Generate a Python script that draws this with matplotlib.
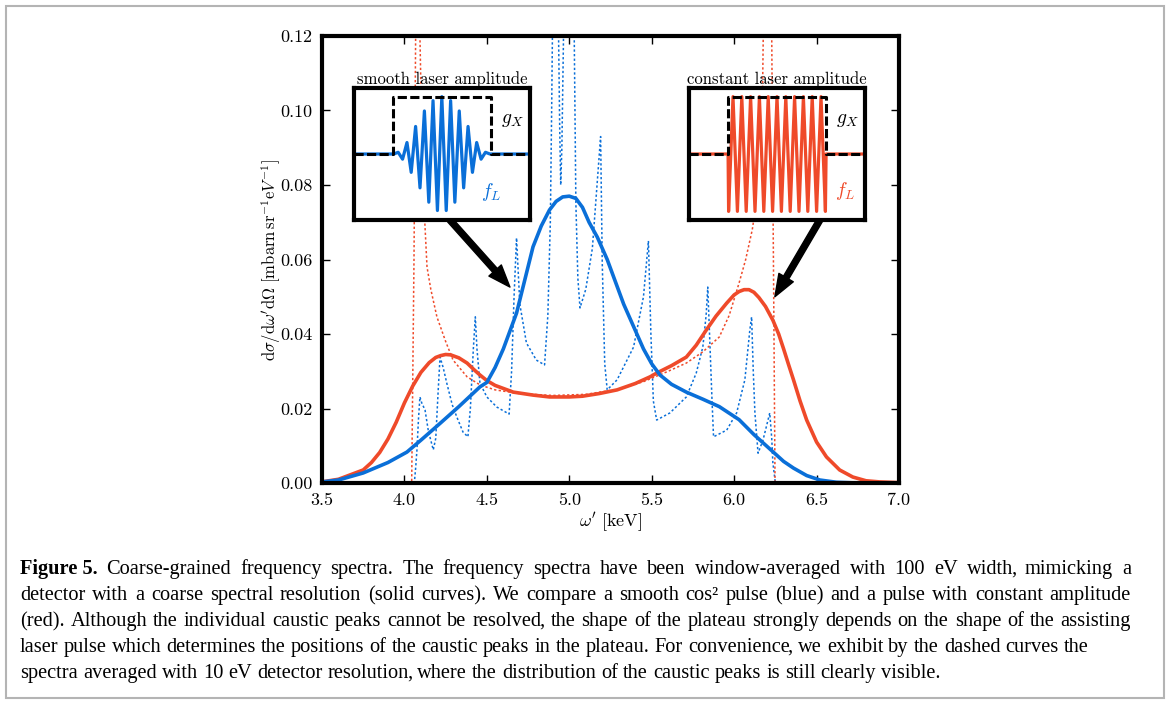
import numpy as np
import matplotlib.pyplot as plt
from matplotlib.patches import Rectangle

plt.rcParams['mathtext.fontset'] = 'cm'
plt.rcParams['font.family'] = ['cmr10', 'DejaVu Serif']
plt.rcParams['axes.formatter.use_mathtext'] = True

BLUE = '#0a6fd8'
RED = '#ef4a2a'

# --- spectra averaged over 100 eV windows (solid curves) ---
omega_smooth = [3.50, 3.60, 3.75, 3.90, 4.015, 4.10, 4.216, 4.33, 4.458, 4.50, 4.55,
                4.60, 4.65, 4.68, 4.73, 4.78, 4.83, 4.88, 4.92, 4.96, 5.00, 5.04, 5.08,
                5.12, 5.17, 5.23, 5.28, 5.33, 5.39, 5.45, 5.50, 5.55, 5.62, 5.71, 5.81,
                5.91, 6.03, 6.12, 6.22, 6.30, 6.36, 6.44, 6.52, 6.62, 6.75, 7.00]
sigma_smooth = [0.0003, 0.0008, 0.0027, 0.0055, 0.0083, 0.0115, 0.0160, 0.0205, 0.0258,
                0.0270, 0.0310, 0.0360, 0.0420, 0.0456, 0.0545, 0.0634, 0.0690, 0.0733,
                0.0756, 0.0768, 0.0770, 0.0764, 0.0740, 0.0700, 0.0660, 0.0600, 0.0540,
                0.0480, 0.0420, 0.0360, 0.0320, 0.0290, 0.0265, 0.0244, 0.0225, 0.0205,
                0.0170, 0.0130, 0.0090, 0.0058, 0.0040, 0.0020, 0.0008, 0.0002, 0.0, 0.0]

omega_const = [3.50, 3.60, 3.75, 3.80, 3.85, 3.90, 3.95, 4.00, 4.05, 4.10, 4.15, 4.19,
               4.22, 4.25, 4.28, 4.33, 4.38, 4.42, 4.458, 4.50, 4.55, 4.66, 4.78, 4.88,
               5.00, 5.08, 5.18, 5.29, 5.40, 5.49, 5.53, 5.62, 5.71, 5.77, 5.83, 5.89,
               5.955, 6.00, 6.03, 6.06, 6.09, 6.12, 6.15, 6.19, 6.235, 6.27, 6.30, 6.33,
               6.36, 6.40, 6.44, 6.50, 6.56, 6.64, 6.72, 6.80, 6.88, 7.00]
sigma_const = [0.0003, 0.0010, 0.0035, 0.0055, 0.0082, 0.0118, 0.0163, 0.0215, 0.0260,
               0.0297, 0.0323, 0.0337, 0.0342, 0.0345, 0.0344, 0.0336, 0.0322, 0.0305,
               0.0290, 0.0275, 0.0262, 0.0244, 0.0236, 0.0231, 0.0231, 0.0233, 0.0240,
               0.0250, 0.0267, 0.0285, 0.0295, 0.0315, 0.0338, 0.0370, 0.0410, 0.0448,
               0.0483, 0.0505, 0.0514, 0.0519, 0.0519, 0.0512, 0.0498, 0.0474, 0.0437,
               0.0400, 0.0360, 0.0318, 0.0277, 0.0220, 0.0169, 0.0110, 0.0070, 0.0035,
               0.0016, 0.0006, 0.0003, 0.0001]

# --- spectra averaged over 10 eV (dotted curves) ---
omega_smooth_fine = [3.50, 4.060, 4.068, 4.076, 4.085, 4.094, 4.105, 4.125, 4.145, 4.175,
                     4.19, 4.205, 4.216, 4.235, 4.257, 4.29, 4.318, 4.355, 4.385, 4.40,
                     4.418, 4.43, 4.44, 4.458, 4.50, 4.56, 4.635, 4.65, 4.665, 4.68, 4.70,
                     4.74, 4.80, 4.85, 4.87, 4.885, 4.893, 4.90, 4.91, 4.925, 4.935, 4.942,
                     4.948, 4.955, 4.965, 4.975, 5.02, 5.03, 5.04, 5.052, 5.065, 5.10, 5.14,
                     5.17, 5.19, 5.20, 5.215, 5.23, 5.29, 5.39, 5.45, 5.48, 5.495, 5.51,
                     5.53, 5.61, 5.71, 5.77, 5.81, 5.83, 5.84, 5.855, 5.865, 5.875, 5.955,
                     6.015, 6.065, 6.095, 6.106, 6.116, 6.126, 6.145, 6.175, 6.216, 6.228,
                     6.235, 6.25, 7.00]
sigma_smooth_fine = [0.0, 0.0, 0.0040, 0.0089, 0.0170, 0.0231, 0.0215, 0.0196, 0.0140,
                     0.0089, 0.0120, 0.0250, 0.0338, 0.0310, 0.0268, 0.0210, 0.0177, 0.0137,
                     0.0124, 0.0200, 0.0360, 0.0446, 0.0360, 0.0268, 0.0231, 0.0204, 0.0185,
                     0.0300, 0.0500, 0.0658, 0.0480, 0.0376, 0.0330, 0.0317, 0.0450, 0.0700,
                     0.1000, 0.1300, 0.2000, 0.2000, 0.1200, 0.0950, 0.0800, 0.0900, 0.1200,
                     0.2000, 0.2000, 0.1200, 0.0750, 0.0550, 0.0470, 0.0520, 0.0630, 0.0810,
                     0.0930, 0.0590, 0.0320, 0.0250, 0.0277, 0.0365, 0.0500, 0.0650, 0.0400,
                     0.0220, 0.0169, 0.0188, 0.0231, 0.0295, 0.0365, 0.0450, 0.0526, 0.0350,
                     0.0231, 0.0124, 0.0142, 0.0188, 0.0277, 0.0410, 0.0446, 0.0300, 0.0188,
                     0.0080, 0.0115, 0.0188, 0.0120, 0.0054, 0.0, 0.0]

omega_const_fine = [3.50, 4.044, 4.058, 4.068, 4.075, 4.088, 4.094, 4.105, 4.118, 4.137,
                    4.16, 4.197, 4.25, 4.295, 4.38, 4.46, 4.55, 4.70, 4.90, 5.10, 5.30,
                    5.45, 5.60, 5.71, 5.81, 5.91, 5.97, 6.03, 6.07, 6.11, 6.14, 6.16, 6.172,
                    6.178, 6.19, 6.222, 6.228, 6.24, 6.248, 7.00]
sigma_const_fine = [0.0, 0.0, 0.060, 0.120, 0.200, 0.200, 0.120, 0.095, 0.075, 0.058,
                    0.052, 0.0446, 0.038, 0.033, 0.0285, 0.0263, 0.0250, 0.0240, 0.0235,
                    0.0238, 0.0252, 0.0272, 0.0300, 0.0322, 0.0352, 0.0392, 0.0450, 0.0537,
                    0.0600, 0.0680, 0.0770, 0.0860, 0.1040, 0.1250, 0.2000, 0.2000, 0.1200,
                    0.0500, 0.0, 0.0]

# --- inset sketches: turning points of the laser field and X-ray window ---
smooth_turn_x = [0.0, 0.226, 0.251, 0.276, 0.301, 0.325, 0.350, 0.375, 0.400, 0.425,
                 0.449, 0.474, 0.499, 0.524, 0.549, 0.573, 0.598, 0.623, 0.648, 0.673,
                 0.697, 0.722, 0.747, 0.772, 1.0]
smooth_turn_f = [0.0, 0.0, 0.03, -0.09, 0.20, -0.32, 0.48, -0.59, 0.75, -0.84, 0.93,
                 -0.985, 1.0, -0.985, 0.93, -0.84, 0.75, -0.59, 0.48, -0.32, 0.20, -0.09,
                 0.03, 0.0, 0.0]
const_turn_x = [0.0, 0.222, 0.225, 0.250, 0.275, 0.300, 0.325, 0.350, 0.375, 0.400,
                0.425, 0.450, 0.475, 0.500, 0.525, 0.550, 0.575, 0.600, 0.625, 0.650,
                0.675, 0.700, 0.725, 0.750, 0.775, 0.779, 1.0]
const_turn_f = [0.0, 0.0, -1, 1, -1, 1, -1, 1, -1, 1, -1, 1, -1, 1, -1, 1, -1, 1, -1,
                1, -1, 1, -1, 1, -1, 0.0, 0.0]
gate_smooth_x = [0.0, 0.221, 0.221, 0.781, 0.781, 1.0]
gate_const_x = [0.0, 0.222, 0.222, 0.779, 0.779, 1.0]
gate_y = [0, 0, 1, 1, 0, 0]

xticks = [3.5, 4.0, 4.5, 5.0, 5.5, 6.0, 6.5, 7.0]
yticks = [0.00, 0.02, 0.04, 0.06, 0.08, 0.10, 0.12]

W, H = 1170, 704
fig = plt.figure(figsize=(W / 100, H / 100), dpi=100)
fig.patches.append(Rectangle((6 / W, 6 / H), 1158 / W, 692 / H, transform=fig.transFigure,
                             fill=False, edgecolor='#b4b4b4', lw=1.5))

ax = fig.add_axes([322 / W, 1 - 483 / H, 577 / W, 447 / H])
ax.plot(omega_smooth_fine, sigma_smooth_fine, color=BLUE, lw=1.1, ls=(0, (1.5, 1.5)))
ax.plot(omega_const_fine, sigma_const_fine, color=RED, lw=1.1, ls=(0, (1.5, 1.5)))
ax.plot(omega_const, sigma_const, color=RED, lw=2.6)
ax.plot(omega_smooth, sigma_smooth, color=BLUE, lw=2.6)
ax.set_xlim(3.5, 7.0)
ax.set_ylim(0.0, 0.12)
ax.set_xticks(xticks)
ax.set_yticks(yticks)
ax.set_xticklabels(['%.1f' % t for t in xticks])
ax.set_yticklabels(['%.2f' % t for t in yticks])
ax.tick_params(direction='in', top=True, right=True, length=6, width=1, labelsize=13, pad=7)
for s in ax.spines.values():
    s.set_linewidth(3)
ax.set_xlabel(r"$\omega^\prime\ [\mathrm{keV}]$", fontsize=13, labelpad=2)
ax.set_ylabel(r"$\mathrm{d}\sigma/\mathrm{d}\omega^\prime\mathrm{d}\Omega\ "
              r"[\mathrm{mbarn}\,\mathrm{sr}^{-1}\mathrm{e}V^{-1}]$", fontsize=12, labelpad=-2)

arrow = dict(facecolor='black', edgecolor='black', width=4.3, headwidth=12, headlength=16, shrink=0)
ax.annotate('', xy=(4.64, 0.0526), xytext=(4.276, 0.0706), arrowprops=arrow)
ax.annotate('', xy=(6.247, 0.050), xytext=(6.52, 0.0706), arrowprops=arrow)


def inset(left, title, xs, fs, gate_x, color):
    a = fig.add_axes([left / W, 1 - 220 / H, 176 / W, 132 / H])
    a.plot(xs, fs, color=color, lw=2.3, solid_joinstyle='round')
    a.plot(gate_x, gate_y, color='black', lw=2.2, ls=(0, (3.0, 1.1)))
    a.set_xlim(0, 1)
    a.set_ylim(-1.15, 1.15)
    a.set_xticks([])
    a.set_yticks([])
    for s in a.spines.values():
        s.set_linewidth(3)
    a.set_title(title, fontsize=12, pad=3)
    a.text(0.90, 0.76, r"$g_X$", transform=a.transAxes, fontsize=14, ha='center', va='center')
    return a


ia = inset(354, 'smooth laser amplitude', smooth_turn_x, smooth_turn_f, gate_smooth_x, BLUE)
ia.text(0.78, 0.21, r"$f_L$", transform=ia.transAxes, fontsize=14, color=BLUE, ha='center', va='center')
ib = inset(689, 'constant laser amplitude', const_turn_x, const_turn_f, gate_const_x, RED)
ib.text(0.885, 0.22, r"$f_L$", transform=ib.transAxes, fontsize=14, color=RED, ha='center', va='center')

# --- caption, set word by word so the first three lines can be justified ---
caption = [
    "Figure 5. Coarse-grained frequency spectra. The frequency spectra have been window-averaged with 100 eV width, mimicking a",
    "detector with a coarse spectral resolution (solid curves). We compare a smooth cos² pulse (blue) and a pulse with constant amplitude",
    "(red). Although the individual caustic peaks cannot be resolved, the shape of the plateau strongly depends on the shape of the assisting",
    "laser pulse which determines the positions of the caustic peaks in the plateau. For convenience, we exhibit by the dashed curves the",
    "spectra averaged with 10 eV detector resolution, where the distribution of the caustic peaks is still clearly visible.",
]
cap_font = dict(family='Liberation Serif', fontsize=14.7, va='baseline')
x0, x1 = 20, 1131
base = [574, 600, 626, 652, 678]
comma_kern = -2.0
renderer = fig.canvas.get_renderer()


def width_of(t):
    return t.get_window_extent(renderer).width


probe = [fig.text(0, 0, s, **cap_font) for s in ('x x', 'xx')]
space = width_of(probe[0]) - width_of(probe[1])
for p in probe:
    p.remove()

for i, line in enumerate(caption):
    words = line.split(' ')
    if i == 0:
        words = ['Figure 5.'] + words[2:]
    groups = []
    for j, w in enumerate(words):
        weight = 'bold' if (i == 0 and j == 0) else 'normal'
        # a trailing comma is set as its own text so it keeps the baseline
        parts = [w[:-1], ','] if w.endswith(',') else [w]
        groups.append([fig.text(0, 0, p, fontweight=weight, **cap_font) for p in parts])
    widths = [sum(width_of(t) for t in g) + comma_kern * (len(g) - 1) for g in groups]
    gap = space if i >= 3 else (x1 - x0 - sum(widths)) / (len(groups) - 1)
    x = x0
    for g in groups:
        for k, t in enumerate(g):
            if k > 0:
                x += comma_kern
            t.set_position((x / W, 1 - base[i] / H))
            x += width_of(t)
        x += gap

fig.savefig('out.png', dpi=100)
